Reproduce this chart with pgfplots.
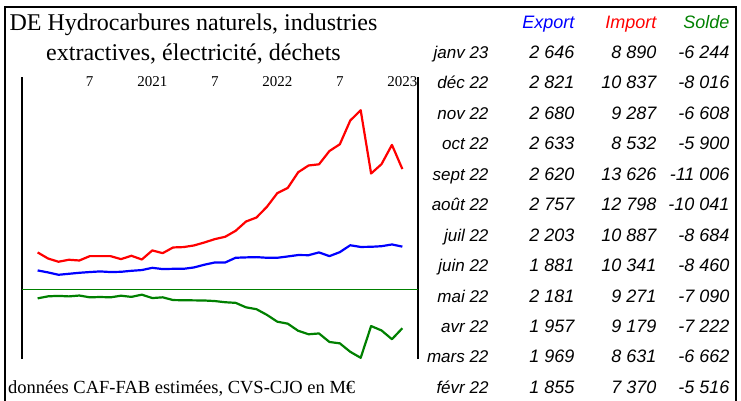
\documentclass[border=0pt]{standalone}
\usepackage{fontspec}
\setmainfont{Liberation Serif}
\newfontfamily\arialfont{Liberation Sans}
\usepackage{pgfplots}
\usepackage{pgfplotstable}
\pgfplotsset{compat=1.18}
\definecolor{xred}{RGB}{255,0,0}
\definecolor{xblue}{RGB}{0,0,255}
\definecolor{xgreen}{RGB}{0,128,0}

% month index: 1 = fevr 2020 ... 36 = janv 2023
\pgfplotstableread{
m exp imp solde
1 730 2180 -1450
2 570 1690 -1120
3 380 1430 -1050
4 460 1590 -1130
5 540 1530 -990
6 600 1880 -1280
7 650 1880 -1230
8 600 1880 -1280
9 620 1640 -1020
10 700 1910 -1210
11 760 1610 -850
12 940 2340 -1400
13 840 2120 -1280
14 860 2580 -1720
15 860 2610 -1750
16 970 2740 -1770
17 1190 2980 -1790
18 1370 3250 -1880
19 1370 3440 -2070
20 1750 3920 -2170
21 1780 4670 -2890
22 1800 4990 -3190
23 1750 5850 -4100
24 1750 6950 -5200
25 1855 7370 -5516
26 1969 8631 -6662
27 1957 9179 -7222
28 2181 9271 -7090
29 1881 10341 -8460
30 2203 10887 -8684
31 2757 12798 -10041
32 2620 13626 -11006
33 2633 8532 -5900
34 2680 9287 -6608
35 2821 10837 -8016
36 2646 8890 -6244
}\dedata

\begin{document}
\begin{tikzpicture}[x=1pt,y=1pt]
\useasboundingbox (0,0) rectangle (741,-400);
\draw[line width=1.2pt] (5,-7) rectangle (736,-403);

% title
\node[anchor=base, font=\fontsize{24}{28}\selectfont] at (193.5,-30) {DE Hydrocarbures naturels, industries};
\node[anchor=base, font=\fontsize{24}{28}\selectfont] at (193.5,-60) {extractives, électricité, déchets};
\node[anchor=base west, font=\fontsize{18.5}{22}\selectfont, inner sep=0pt] at (8,-393) {données CAF-FAB estimées, CVS-CJO en M€};

% Export / Import
\begin{axis}[
  at={(22pt,-359pt)}, anchor=south west,
  width=396pt, height=282pt, scale only axis,
  xmin=-0.5, xmax=37.5, ymin=-6400, ymax=16300,
  separate axis lines,
  x axis line style={draw=none},
  y axis line style={line width=1.2pt},
  ytick=\empty, scaled y ticks=false,
  xtick={6,12,18,24,30,36}, xticklabels={7,2021,7,2022,7,2023},
  xticklabel pos=upper,
  major tick length=0pt,
  xticklabel style={anchor=base, yshift=-9pt, font=\fontsize{15}{18}\selectfont},
  clip=false,
]
\addplot[xred, line width=2.2pt, line join=round, no marks] table[x=m, y=imp] {\dedata};
\addplot[xblue, line width=2.2pt, line join=round, no marks] table[x=m, y=exp] {\dedata};
\end{axis}

% Solde on its own scale
\begin{axis}[
  at={(22pt,-359pt)}, anchor=south west,
  width=396pt, height=282pt, scale only axis,
  xmin=-0.5, xmax=37.5, ymin=-11200, ymax=34150,
  axis line style={draw=none},
  xtick=\empty, ytick=\empty, scaled y ticks=false,
  major tick length=0pt,
  clip=false,
]
\draw[xgreen, line width=0.9pt] (axis cs:-0.5,0) -- (axis cs:37.5,0);
\addplot[xgreen, line width=2.2pt, line join=round, no marks] table[x=m, y=solde] {\dedata};
\end{axis}

% table
\begin{scope}[font=\arialfont\itshape\fontsize{18}{21}\selectfont]
\node[anchor=base east, xblue] at (578,-28.4) {Export};
\node[anchor=base east, xred] at (660,-28.4) {Import};
\node[anchor=base east, xgreen] at (733,-28.4) {Solde};
\foreach \mo/\ex/\im/\so [count=\k from 0] in {
  janv 23/2 646/8 890/-6 244,
  déc 22/2 821/10 837/-8 016,
  nov 22/2 680/9 287/-6 608,
  oct 22/2 633/8 532/-5 900,
  sept 22/2 620/13 626/-11 006,
  août 22/2 757/12 798/-10 041,
  juil 22/2 203/10 887/-8 684,
  juin 22/1 881/10 341/-8 460,
  mai 22/2 181/9 271/-7 090,
  avr 22/1 957/9 179/-7 222,
  mars 22/1 969/8 631/-6 662,
  févr 22/1 855/7 370/-5 516}{
  \pgfmathsetmacro{\yb}{-(52+30.45*\k+6.4)}
  \node[anchor=base east, font=\arialfont\itshape\fontsize{17}{20}\selectfont] at (492,\yb) {\mo};
  \node[anchor=base east] at (578,\yb) {\ex};
  \node[anchor=base east] at (660,\yb) {\im};
  \node[anchor=base east] at (733,\yb) {\so};
}
\end{scope}
\end{tikzpicture}
\end{document}
